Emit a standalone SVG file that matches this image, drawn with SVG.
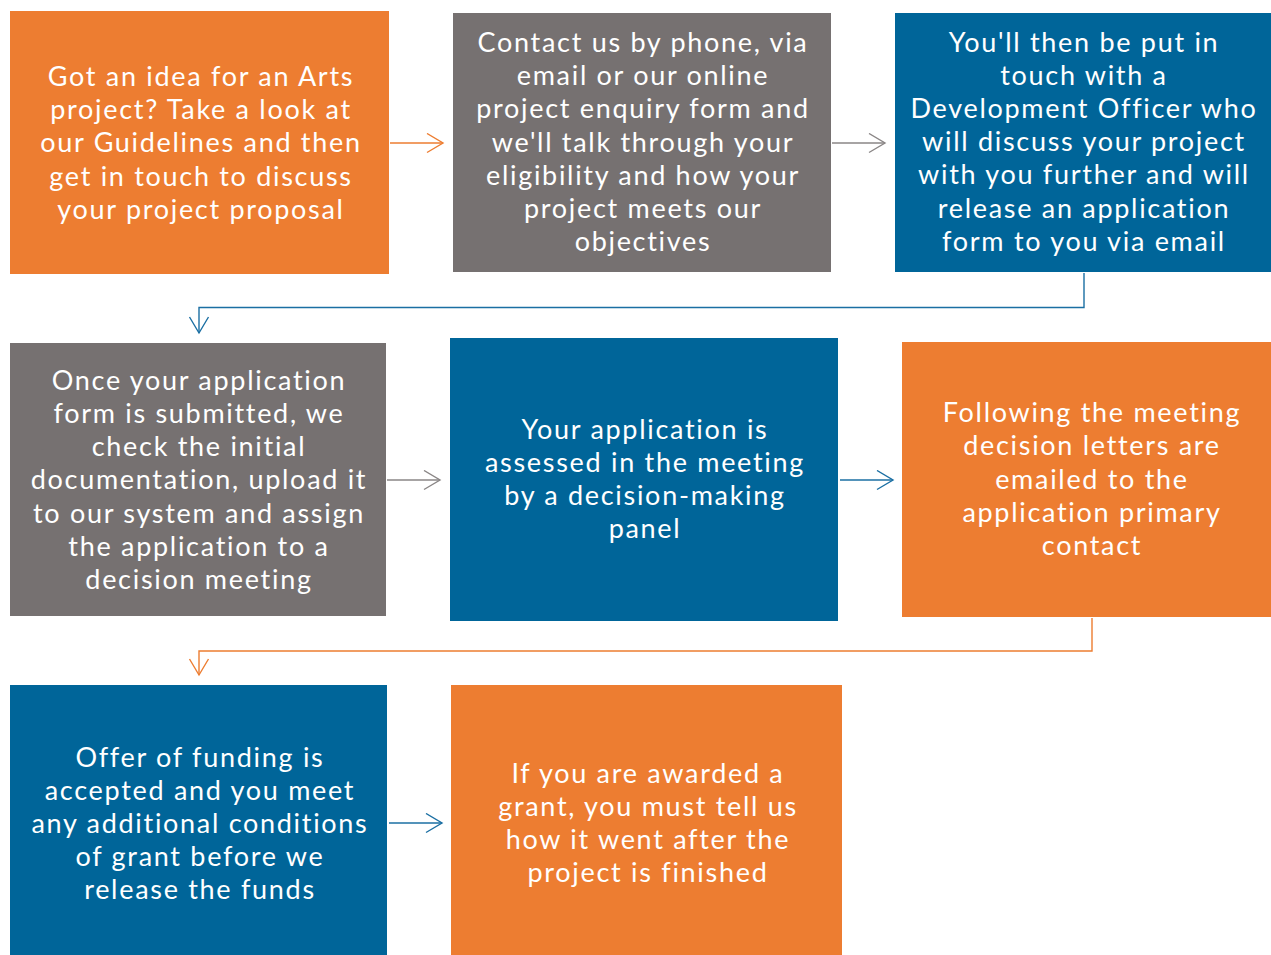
<svg xmlns="http://www.w3.org/2000/svg" width="1271" height="955" viewBox="0 0 1271 955">
<style>
.o{fill:#ED7D31}.g{fill:#767171}.b{fill:#006599}
text{font-family:Lato,"Noto Sans","Liberation Sans",sans-serif;font-size:27px;letter-spacing:1.7px;fill:#fff;text-anchor:middle}
.c{fill:none;stroke-width:1.4}
.co{stroke:#ED7D31}.cg{stroke:#8a8686}.cb{stroke:#1b6fa3}
</style>
<defs>
<marker id="ao" markerWidth="20" markerHeight="22" refX="17" refY="10.5" orient="auto" markerUnits="userSpaceOnUse"><path d="M1,1 L17,10.5 L1,20" fill="none" stroke="#ED7D31" stroke-width="1.4"/></marker>
<marker id="ag" markerWidth="20" markerHeight="22" refX="17" refY="10.5" orient="auto" markerUnits="userSpaceOnUse"><path d="M1,1 L17,10.5 L1,20" fill="none" stroke="#8a8686" stroke-width="1.4"/></marker>
<marker id="ab" markerWidth="20" markerHeight="22" refX="17" refY="10.5" orient="auto" markerUnits="userSpaceOnUse"><path d="M1,1 L17,10.5 L1,20" fill="none" stroke="#1b6fa3" stroke-width="1.4"/></marker>
</defs>
<g id="connectors">
<path class="c co" d="M390,143 H443" marker-end="url(#ao)"/>
<path class="c cg" d="M832,143 H885" marker-end="url(#ag)"/>
<path class="c cb" d="M1084,273 V307.5 H199 V333" marker-end="url(#ab)"/>
<path class="c cg" d="M387,480 H440" marker-end="url(#ag)"/>
<path class="c cb" d="M840,480 H893" marker-end="url(#ab)"/>
<path class="c co" d="M1092,618 V651 H199 V675" marker-end="url(#ao)"/>
<path class="c cb" d="M389,823 H442" marker-end="url(#ab)"/>
</g>
<g id="n1"><rect class="o" x="10" y="11" width="379" height="263"/>
<text x="201" y="86">Got an idea for an Arts</text><text x="201" y="119">project? Take a look at</text><text x="201" y="152">our Guidelines and then</text><text x="201" y="186">get in touch to discuss</text><text x="201" y="219">your project proposal</text></g>
<g id="n2"><rect class="g" x="453" y="13" width="378" height="259"/>
<text x="643" y="52">Contact us by phone, via</text><text x="643" y="85">email or our online</text><text x="643" y="118">project enquiry form and</text><text x="643" y="152">we'll talk through your</text><text x="643" y="185">eligibility and how your</text><text x="643" y="218">project meets our</text><text x="643" y="251">objectives</text></g>
<g id="n3"><rect class="b" x="895" y="13" width="376" height="259"/>
<text x="1084" y="52">You'll then be put in</text><text x="1084" y="85">touch with a</text><text x="1084" y="118">Development Officer who</text><text x="1084" y="151">will discuss your project</text><text x="1084" y="184">with you further and will</text><text x="1084" y="218">release an application</text><text x="1084" y="251">form to you via email</text></g>
<g id="n4"><rect class="g" x="10" y="343" width="376" height="273"/>
<text x="199" y="390">Once your application</text><text x="199" y="423">form is submitted, we</text><text x="199" y="456">check the initial</text><text x="199" y="489">documentation, upload it</text><text x="199" y="523">to our system and assign</text><text x="199" y="556">the application to a</text><text x="199" y="589">decision meeting</text></g>
<g id="n5"><rect class="b" x="450" y="338" width="388" height="283"/>
<text x="645" y="439">Your application is</text><text x="645" y="472">assessed in the meeting</text><text x="645" y="505">by a decision-making</text><text x="645" y="538">panel</text></g>
<g id="n6"><rect class="o" x="902" y="342" width="369" height="275"/>
<text x="1092" y="422">Following the meeting</text><text x="1092" y="455">decision letters are</text><text x="1092" y="489">emailed to the</text><text x="1092" y="522">application primary</text><text x="1092" y="555">contact</text></g>
<g id="n7"><rect class="b" x="10" y="685" width="377" height="270"/>
<text x="200" y="767">Offer of funding is</text><text x="200" y="800">accepted and you meet</text><text x="200" y="833">any additional conditions</text><text x="200" y="866">of grant before we</text><text x="200" y="899">release the funds</text></g>
<g id="n8"><rect class="o" x="451" y="685" width="391" height="270"/>
<text x="648" y="783">If you are awarded a</text><text x="648" y="816">grant, you must tell us</text><text x="648" y="849">how it went after the</text><text x="648" y="882">project is finished</text></g>
</svg>
